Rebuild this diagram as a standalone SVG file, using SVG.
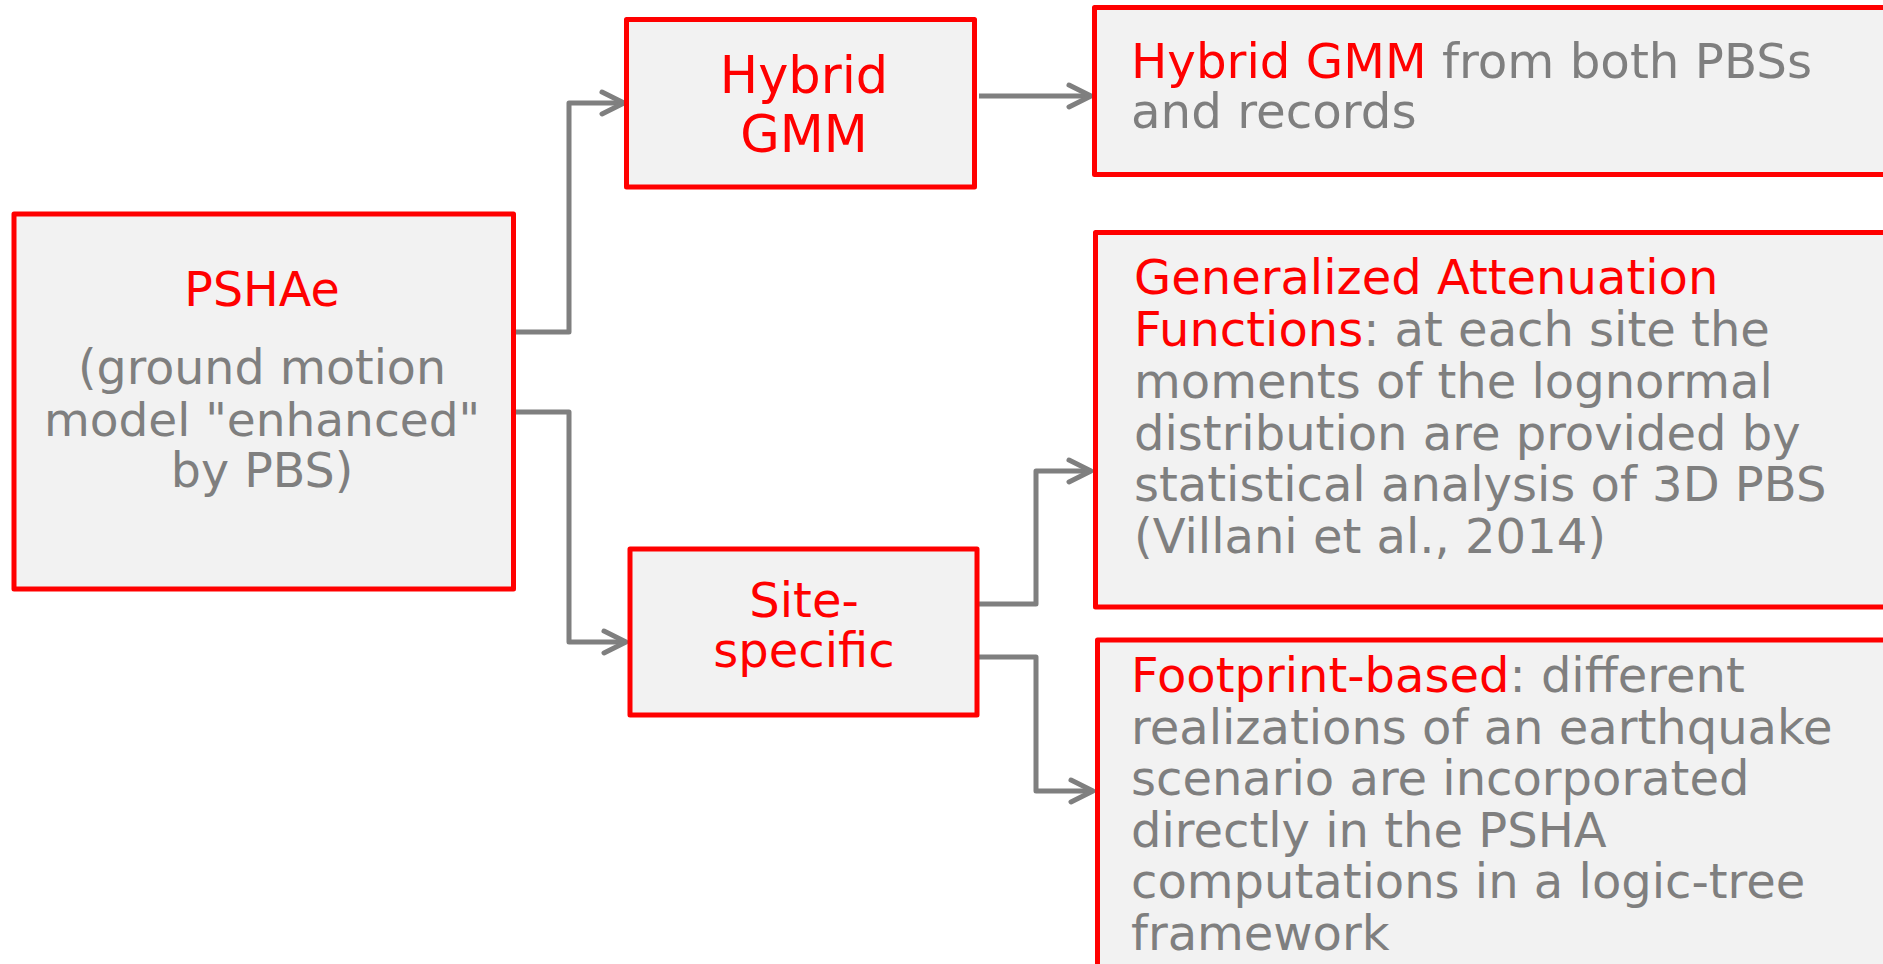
<svg xmlns="http://www.w3.org/2000/svg" width="1883" height="964" viewBox="0 0 1883 964">
<defs>
<style>
.box{fill:#F2F2F2;stroke:#FF0000;stroke-width:5;stroke-linejoin:round}
.t{font-family:"DejaVu Sans","Verdana",sans-serif;font-size:48px;fill:#7F7F7F}
.c{text-anchor:middle}
.r{fill:#FF0000}
.conn{fill:none;stroke:#7F7F7F;stroke-width:5;stroke-linejoin:round;marker-end:url(#arr)}
</style>
<marker id="arr" markerUnits="userSpaceOnUse" orient="auto" markerWidth="40" markerHeight="40" refX="0" refY="0" viewBox="-30 -20 40 40" overflow="visible">
<path d="M-22,-11 L0,0 L-22,11" fill="none" stroke="#7F7F7F" stroke-width="5" stroke-linecap="round" stroke-linejoin="round"/>
</marker>
</defs>
<rect width="1883" height="964" fill="#FFFFFF"/>
<g id="connectors">
<path class="conn" d="M516,332 H569 V103 H624"/>
<path class="conn" d="M516,412 H569 V642 H626"/>
<path class="conn" d="M979,96 H1091"/>
<path class="conn" d="M979,604 H1036 V471 H1091"/>
<path class="conn" d="M979,657 H1036 V791 H1093"/>
</g>
<g id="pshae">
<rect class="box" x="14" y="214" width="499.5" height="375"/>
<text class="t c r" x="262" y="306" style="font-size:47.5px">PSHAe</text>
<text class="t c" x="262" y="384" style="font-size:47.5px">(ground motion</text>
<text class="t c" x="262" y="436" style="font-size:47px">model "enhanced"</text>
<text class="t c" x="262" y="487" style="font-size:47.5px">by PBS)</text>
</g>
<g id="hybrid">
<rect class="box" x="626.5" y="19.5" width="348" height="167.5"/>
<text class="t c r" x="804" y="93" style="font-size:51px">Hybrid</text>
<text class="t c r" x="804" y="152" style="font-size:51px">GMM</text>
</g>
<g id="site">
<rect class="box" x="630" y="549" width="347" height="166"/>
<text class="t c r" x="804" y="617">Site-</text>
<text class="t c r" x="804" y="667">specific</text>
</g>
<g id="hybrid-desc">
<rect class="box" x="1094.5" y="7.5" width="800" height="167"/>
<text class="t" x="1131" y="78" style="font-size:48.3px"><tspan class="r">Hybrid GMM</tspan> from both PBSs</text>
<text class="t" x="1131" y="128" style="font-size:48.3px">and records</text>
</g>
<g id="gaf">
<rect class="box" x="1095.5" y="232.5" width="800" height="374.5"/>
<text class="t r" x="1134" y="294">Generalized Attenuation</text>
<text class="t" x="1134" y="346"><tspan class="r">Functions</tspan>: at each site the</text>
<text class="t" x="1134" y="398">moments of the lognormal</text>
<text class="t" x="1134" y="449.5">distribution are provided by</text>
<text class="t" x="1134" y="501">statistical analysis of 3D PBS</text>
<text class="t" x="1134" y="553">(Villani et al., 2014)</text>
</g>
<g id="footprint">
<rect class="box" x="1097.5" y="640" width="800" height="340"/>
<text class="t" x="1131" y="692"><tspan class="r">Footprint-based</tspan>: different</text>
<text class="t" x="1131" y="743.5">realizations of an earthquake</text>
<text class="t" x="1131" y="795">scenario are incorporated</text>
<text class="t" x="1131" y="847">directly in the PSHA</text>
<text class="t" x="1131" y="898">computations in a logic-tree</text>
<text class="t" x="1131" y="950">framework</text>
</g>
</svg>
